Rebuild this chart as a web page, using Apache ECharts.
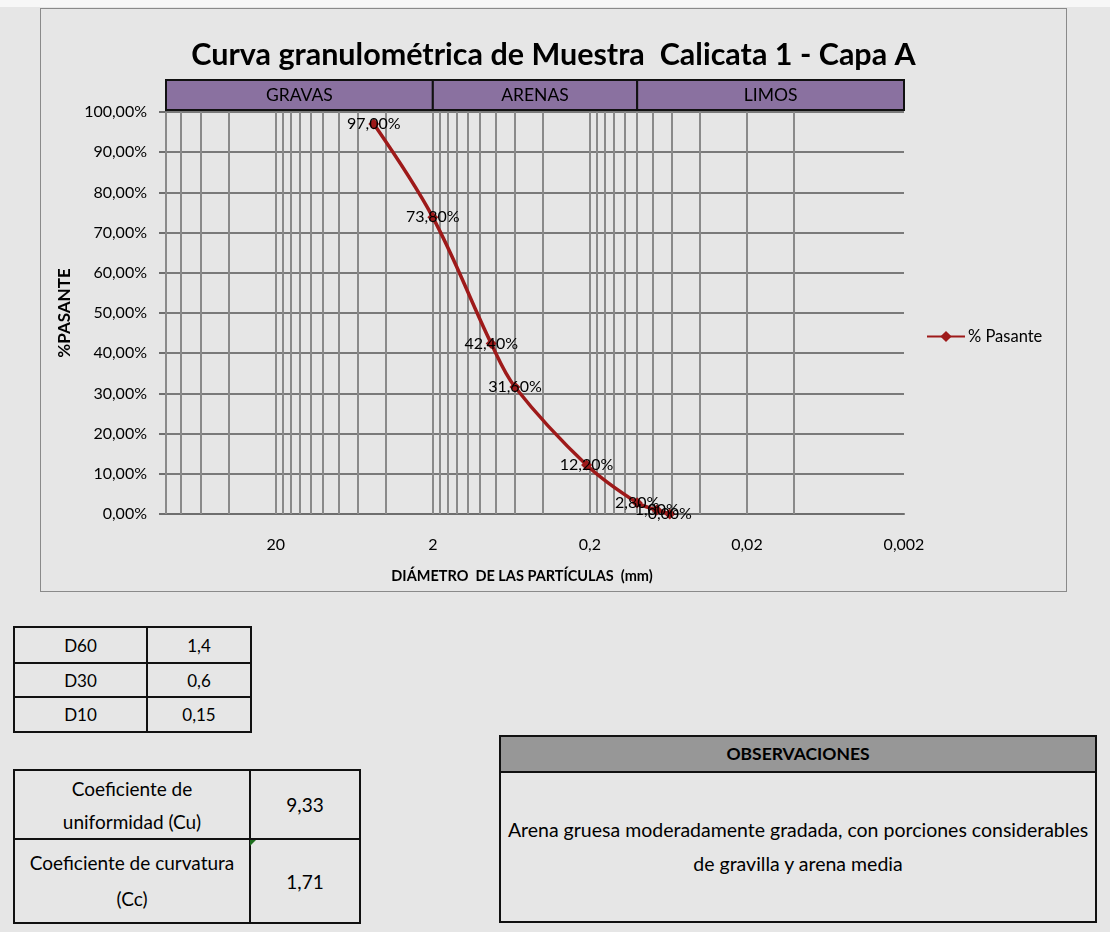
<!DOCTYPE html>
<html>
<head>
<meta charset="utf-8">
<script src="https://cdn.jsdelivr.net/npm/echarts@6/dist/echarts.min.js"></script>
<style>
  body { margin: 0; background: #e6e6e6; font-family: Lato, "Open Sans", sans-serif; }
  #topStrip { position: absolute; left: 0; top: 0; width: 1110px; height: 7px; background: #f7f7f7; }
  #chartBox { position: absolute; left: 40px; top: 8px; width: 1025px; height: 582px;
              border: 1.5px solid #8a8a8a; background: #e6e6e6; }
  table { position: absolute; border-collapse: collapse; color: #000; }
  td { border: 2px solid #111; text-align: center; padding: 0; }
  .obs { position: absolute; left: 499px; top: 735px; width: 594px; height: 184px; border: 2px solid #111; }
  .obs .head { height: 34px; line-height: 34px; background: #979797; border-bottom: 2px solid #111;
               text-align: center; font-weight: bold; font-size: 17.5px; }
  .obs .body { text-align: center; font-size: 19.5px; line-height: 34px; padding-top: 40px; }
  .flag { position: absolute; left: 250px; top: 840px; width: 0; height: 0;
          border-top: 6px solid #1e6e1e; border-right: 6px solid transparent; }
</style>
</head>
<body>
<div id="topStrip"></div>
<div id="chartBox"></div>

<table style="left:13px; top:626px; font-size:17px;">
  <tr style="height:36px"><td style="width:131px">D60</td><td style="width:102px">1,4</td></tr>
  <tr style="height:34px"><td>D30</td><td>0,6</td></tr>
  <tr style="height:35px"><td>D10</td><td>0,15</td></tr>
</table>

<table style="left:13px; top:769px; font-size:19px;">
  <tr style="height:69px"><td style="width:234px; line-height:33px">Coeficiente de<br>uniformidad (Cu)</td><td style="width:108px">9,33</td></tr>
  <tr style="height:84px"><td style="line-height:36px">Coeficiente de curvatura<br>(Cc)</td><td>1,71</td></tr>
</table>
<div class="flag"></div>

<div class="obs">
  <div class="head">OBSERVACIONES</div>
  <div class="body">Arena gruesa moderadamente gradada, con porciones considerables<br>de gravilla y arena media</div>
</div>

<script>
// datos de la curva
var diametros = [4.75, 2.0, 0.85, 0.6, 0.21, 0.1, 0.075, 0.062];
var pasante = [97.0, 73.8, 42.4, 31.6, 12.2, 2.8, 1.0, 0.0];
var etiquetasX = [20, 2, 0.2, 0.02, 0.002];
var decadas = [0.002, 0.02, 0.2, 2, 20];
var bandas = ["GRAVAS", "ARENAS", "LIMOS"];
var limitesBandas = [100, 2, 0.1, 0.002];

function coma(v, dec) {
  return (dec == null ? String(+v.toPrecision(3)) : v.toFixed(dec)).replace(".", ",");
}

// lineas verticales del papel logaritmico
var lineasGrid = [];
decadas.forEach(function (d) {
  for (var k = 1; k <= 9; k++) lineasGrid.push({ xAxis: +(d * k).toPrecision(3) });
});
lineasGrid.push({ xAxis: 100 });

var areas = bandas.map(function (b, i) {
  return [{ xAxis: limitesBandas[i], name: b }, { xAxis: limitesBandas[i + 1] }];
});

var chart = echarts.init(document.getElementById("chartBox"));
var font = "Lato";
var option = {
  animation: false,
  textStyle: { fontFamily: font },
  title: {
    text: "Curva granulométrica de Muestra  Calicata 1 - Capa A",
    left: "center",
    top: 26,
    textStyle: { fontFamily: font, fontSize: 30.5, fontWeight: "bold", color: "#000" }
  },
  legend: {
    left: 880,
    top: 314,
    itemWidth: 38,
    itemHeight: 14,
    textStyle: { fontFamily: font, fontSize: 16.5, color: "#000", padding: [0, 0, 0, -2] },
    data: ["% Pasante"]
  },
  grid: [
    { left: 125, top: 103, width: 738, height: 402 },
    { left: 125, top: 71, width: 738, height: 30 }
  ],
  xAxis: [
    {
      type: "log",
      logBase: 10,
      min: 0.002,
      max: 100,
      inverse: true,
      name: "DIÁMETRO  DE LAS PARTÍCULAS  (mm)",
      nameLocation: "middle",
      nameGap: 55,
      nameTextStyle: { fontFamily: font, fontSize: 14.5, fontWeight: "bold", color: "#000", padding: [0, 26, 0, 0] },
      axisLine: { lineStyle: { color: "#6e6e6e", width: 2 } },
      axisTick: { show: false },
      splitLine: { show: false },
      minorSplitLine: { show: false },
      axisLabel: {
        customValues: etiquetasX,
        margin: 23,
        fontSize: 16,
        color: "#000",
        formatter: function (v) { return coma(v); }
      }
    },
    {
      type: "log",
      gridIndex: 1,
      logBase: 10,
      min: 0.002,
      max: 100,
      inverse: true,
      show: false
    }
  ],
  yAxis: [
    {
      type: "value",
      min: 0,
      max: 100,
      interval: 10,
      name: "%PASANTE",
      nameLocation: "middle",
      nameGap: 90,
      nameTextStyle: { fontFamily: font, fontSize: 17, fontWeight: "bold", color: "#000" },
      axisLine: { show: true, lineStyle: { color: "#6e6e6e", width: 2 } },
      axisTick: { show: true, length: 7, lineStyle: { color: "#6e6e6e", width: 2 } },
      splitLine: { lineStyle: { color: "#7a7a7a", width: 2 } },
      axisLabel: {
        margin: 19,
        fontSize: 16,
        color: "#000",
        formatter: function (v) { return coma(v, 2) + "%"; }
      }
    },
    { type: "value", gridIndex: 1, min: 0, max: 1, show: false }
  ],
  series: [
    {
      name: "% Pasante",
      type: "line",
      z: 3,
      smooth: 0.35,
      data: diametros.map(function (d, i) { return [d, pasante[i]]; }),
      symbol: "diamond",
      symbolSize: 11,
      itemStyle: { color: "#9e1a1a" },
      lineStyle: { color: "#9e1a1a", width: 3.5 },
      label: {
        show: true,
        position: "inside",
        fontSize: 16,
        color: "#000",
        formatter: function (p) { return coma(p.value[1], 2) + "%"; }
      },
      markLine: {
        silent: true,
        z: 1,
        symbol: ["none", "none"],
        label: { show: false },
        lineStyle: { color: "#8a8a8a", width: 2, type: "solid" },
        data: lineasGrid
      }
    },
    {
      name: "bandas",
      type: "line",
      xAxisIndex: 1,
      yAxisIndex: 1,
      data: [],
      markArea: {
        silent: true,
        itemStyle: { color: "#8a71a0", borderColor: "#111", borderWidth: 2 },
        label: { show: true, position: "inside", fontSize: 17.5, color: "#000", fontFamily: font },
        data: areas
      }
    }
  ]
};
chart.setOption(option);
</script>
</body>
</html>
